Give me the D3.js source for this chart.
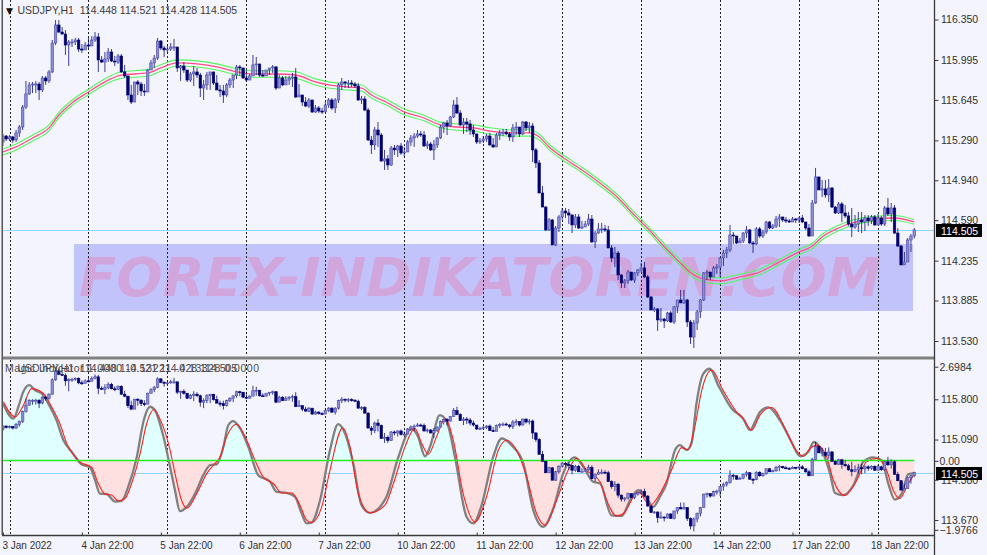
<!DOCTYPE html>
<html><head><meta charset="utf-8">
<script src="https://cdn.jsdelivr.net/npm/d3@7/dist/d3.min.js"></script>
<style>
html,body{margin:0;padding:0;background:#f4f4ff;overflow:hidden}
svg{display:block}
text{font-family:"Liberation Sans",Arial,sans-serif}
</style></head><body><div id="chart"></div>
<script>
const firstOpen = 115.276;
const closes = [115.328,115.302,115.320,115.293,115.355,115.407,115.582,115.697,115.776,115.784,115.784,115.732,115.837,115.811,115.890,116.144,116.302,116.240,116.223,116.126,116.153,116.153,116.170,116.091,116.083,116.126,116.118,116.170,116.197,115.995,115.977,116.004,116.065,115.986,115.977,116.030,115.890,115.855,115.688,115.626,115.802,115.784,115.723,115.714,115.907,115.969,116.012,116.161,116.100,116.083,116.091,116.109,116.109,115.925,115.942,115.907,115.819,115.872,115.890,115.863,115.749,115.776,115.863,115.890,115.793,115.732,115.723,115.688,115.776,115.819,115.863,115.934,115.925,115.837,115.819,115.855,115.951,115.960,115.863,115.855,115.907,115.925,115.934,115.749,115.837,115.776,115.819,115.837,115.846,115.670,115.688,115.626,115.591,115.644,115.539,115.574,115.547,115.539,115.600,115.644,115.574,115.644,115.776,115.802,115.793,115.793,115.784,115.767,115.644,115.653,115.556,115.293,115.250,115.381,115.337,115.109,115.127,115.074,115.223,115.206,115.241,115.179,115.188,115.276,115.311,115.328,115.346,115.337,115.241,115.258,115.206,115.250,115.311,115.407,115.442,115.416,115.495,115.600,115.530,115.425,115.451,115.434,115.381,115.346,115.276,115.285,115.302,115.328,115.250,115.232,115.337,115.355,115.363,115.346,115.320,115.399,115.407,115.346,115.451,115.399,115.416,115.206,115.092,114.828,114.705,114.504,114.592,114.372,114.521,114.618,114.670,114.653,114.635,114.548,114.618,114.521,114.530,114.556,114.600,114.399,114.477,114.513,114.513,114.504,114.346,114.258,114.302,114.109,114.039,114.057,114.135,114.065,114.127,114.153,114.171,114.092,113.916,113.802,113.811,113.715,113.723,113.706,113.776,113.697,113.829,113.890,113.864,113.890,113.697,113.565,113.688,113.785,113.890,114.127,114.135,114.092,114.171,114.179,114.258,114.302,114.329,114.460,114.451,114.390,114.407,114.477,114.504,114.390,114.381,114.513,114.451,114.486,114.574,114.521,114.539,114.600,114.618,114.592,114.583,114.574,114.600,114.592,114.609,114.574,114.521,114.451,114.741,114.969,114.855,114.864,114.811,114.872,114.705,114.653,114.732,114.653,114.627,114.556,114.530,114.556,114.592,114.574,114.609,114.583,114.618,114.548,114.609,114.556,114.697,114.644,114.697,114.477,114.363,114.197,114.223,114.416,114.451,114.505];
const highs = [115.346,115.337,115.337,115.328,115.381,115.425,115.600,115.811,115.802,115.802,115.811,115.802,115.855,115.855,115.907,116.170,116.346,116.346,116.284,116.258,116.170,116.179,116.188,116.188,116.135,116.153,116.188,116.205,116.240,116.232,116.030,116.065,116.100,116.091,116.030,116.047,116.047,115.951,115.846,115.776,115.802,115.819,115.802,115.784,115.916,115.995,116.039,116.188,116.170,116.118,116.118,116.144,116.179,116.100,115.951,115.977,115.907,115.890,115.942,115.925,115.881,115.819,115.890,115.890,115.890,115.863,115.776,115.776,115.793,115.837,115.863,115.951,115.951,115.925,115.907,115.872,116.039,116.021,115.951,115.907,115.907,115.925,115.951,115.942,115.863,115.855,115.855,115.855,115.881,115.925,115.784,115.688,115.670,115.661,115.626,115.600,115.591,115.574,115.626,115.661,115.661,115.661,115.793,115.837,115.811,115.819,115.819,115.802,115.793,115.679,115.679,115.574,115.328,115.407,115.451,115.355,115.206,115.162,115.241,115.250,115.250,115.267,115.232,115.293,115.337,115.355,115.381,115.372,115.372,115.285,115.276,115.293,115.320,115.425,115.451,115.469,115.504,115.644,115.670,115.556,115.486,115.486,115.469,115.425,115.346,115.311,115.328,115.346,115.355,115.311,115.355,115.381,115.390,115.390,115.363,115.434,115.451,115.381,115.460,115.460,115.451,115.442,115.223,115.118,114.890,114.714,114.609,114.600,114.539,114.635,114.697,114.697,114.688,114.644,114.644,114.644,114.583,114.583,114.644,114.635,114.495,114.565,114.565,114.548,114.539,114.372,114.355,114.320,114.118,114.074,114.153,114.135,114.135,114.162,114.215,114.223,114.109,113.925,113.828,113.820,113.820,113.732,113.785,113.793,113.837,113.890,113.978,113.978,113.899,113.715,113.715,113.802,113.899,114.135,114.153,114.135,114.188,114.206,114.267,114.329,114.355,114.548,114.486,114.442,114.434,114.486,114.539,114.513,114.407,114.530,114.530,114.504,114.583,114.583,114.556,114.627,114.644,114.618,114.618,114.600,114.618,114.609,114.618,114.635,114.574,114.556,114.767,115.048,114.969,114.942,114.942,114.951,114.881,114.714,114.750,114.750,114.723,114.662,114.697,114.635,114.662,114.662,114.635,114.635,114.635,114.635,114.644,114.627,114.714,114.785,114.741,114.723,114.521,114.372,114.311,114.434,114.469,114.521];
const lows = [115.241,115.285,115.285,115.267,115.276,115.320,115.381,115.565,115.688,115.705,115.705,115.644,115.714,115.776,115.793,115.881,116.126,116.232,116.214,116.039,115.942,116.109,116.126,116.065,116.056,116.083,116.100,116.135,116.153,115.890,115.969,115.890,115.977,115.977,115.942,115.960,115.881,115.837,115.644,115.609,115.644,115.688,115.679,115.679,115.732,115.907,115.925,115.995,116.083,116.021,116.056,116.074,116.074,115.890,115.811,115.881,115.802,115.802,115.767,115.837,115.670,115.644,115.732,115.732,115.776,115.732,115.670,115.618,115.670,115.749,115.749,115.828,115.855,115.828,115.802,115.819,115.863,115.863,115.846,115.846,115.855,115.863,115.881,115.732,115.767,115.767,115.784,115.776,115.758,115.661,115.670,115.591,115.582,115.574,115.530,115.530,115.530,115.521,115.539,115.574,115.556,115.530,115.618,115.732,115.749,115.749,115.758,115.749,115.635,115.609,115.547,115.285,115.170,115.206,115.232,115.100,115.030,115.030,115.065,115.162,115.144,115.162,115.144,115.188,115.241,115.232,115.311,115.320,115.232,115.214,115.197,115.118,115.223,115.302,115.355,115.337,115.407,115.486,115.521,115.416,115.346,115.363,115.337,115.320,115.258,115.258,115.267,115.276,115.241,115.223,115.241,115.293,115.328,115.337,115.285,115.276,115.337,115.320,115.337,115.372,115.355,115.100,115.048,114.828,114.705,114.495,114.495,114.372,114.363,114.486,114.592,114.609,114.556,114.477,114.521,114.513,114.513,114.530,114.539,114.390,114.346,114.469,114.477,114.486,114.346,114.223,114.179,114.065,113.995,113.995,114.030,114.057,114.039,114.100,114.135,114.083,113.907,113.802,113.785,113.618,113.697,113.644,113.697,113.688,113.679,113.776,113.864,113.855,113.653,113.504,113.469,113.627,113.732,113.881,114.065,114.065,114.100,114.118,114.092,114.188,114.258,114.311,114.381,114.381,114.390,114.390,114.434,114.381,114.302,114.372,114.434,114.434,114.469,114.513,114.513,114.521,114.530,114.574,114.565,114.565,114.574,114.565,114.565,114.565,114.504,114.442,114.451,114.732,114.855,114.793,114.785,114.750,114.697,114.644,114.644,114.574,114.609,114.539,114.442,114.513,114.486,114.477,114.495,114.539,114.556,114.539,114.548,114.539,114.539,114.627,114.574,114.469,114.355,114.197,114.215,114.223,114.311,114.428];

const maBars = [0,4,9,14,17,21,26,32,36,44,48,53,59,65,70,76,83,89,95,99,105,109,112,117,122,128,133,138,143,148,154,160,163,166,170,176,183,187,191,194,197,200,205,210,213,218,224,230,236,242,246,249,254,258,264,271,277];
const maCenter = [115.188,115.232,115.311,115.399,115.512,115.618,115.714,115.819,115.863,115.881,115.925,115.969,115.960,115.934,115.898,115.872,115.872,115.863,115.802,115.776,115.758,115.749,115.688,115.618,115.539,115.486,115.425,115.407,115.399,115.372,115.355,115.355,115.320,115.232,115.144,115.030,114.881,114.785,114.662,114.574,114.486,114.390,114.241,114.109,114.074,114.057,114.092,114.135,114.223,114.311,114.364,114.442,114.521,114.565,114.600,114.609,114.574];
const maHalf = [.026,.026,.026,.026,.024,.024,.024,.026,.029,.029,.029,.027,.027,.027,.027,.029,.029,.029,.027,.027,.027,.027,.027,.025,.025,.025,.025,.028,.028,.028,.028,.028,.026,.024,.024,.024,.024,.024,.024,.024,.024,.024,.024,.024,.026,.026,.024,.024,.024,.024,.024,.024,.024,.024,.022,.022,.020];

const grayBars = [0.1,1.6,3.2,4.7,6.2,8,9.8,11.8,13.8,16.3,18.4,20.9,23.9,26.5,28,29.5,31.5,34.1,36.1,38.1,40.7,42.7,44.7,46.2,48.8,50.8,52.3,53.8,55.9,58.9,60.9,63,65,67,68.5,70,72.1,74.6,77.6,81.2,83.2,86.2,88.8,90.8,92.3,93.8,96.4,99.4,101.9,104,106.5,109,111.6,114.6,116.6,120.2,124.2,126.2,128.3,129.8,132.8,134.9,137.4,140.9,143,145.5,149,151.6,154.6,158.2,161.2,164.2,167.3,170.3,173.9,176.4,179.4,181.5,185,188.1,190.6,193.1,195.7,197.7,199.7,201.7,204.3,205.8,207.8,209.3,210.8,212.9,214.9,217.4,221.5,225,227.1,228.6,230.1,232.6,236.2,239.7,242.3,244.8,246.5,249.3,251.4,252.9,255.4,258.5,261.5,264.5,267.1,269.1,271.1,273.2,275.2,277];
const grayVals = [1.64,1.35,1.21,1.55,1.98,2.17,2.02,1.93,1.64,1.16,.59,.26,-.10,-.19,-.55,-.94,-.95,-1.17,-1.15,-.74,.11,1.12,1.55,1.45,.69,-.17,-.84,-1.44,-1.32,-.84,-.41,-.12,-.10,.40,1.02,1.14,.93,.40,-.41,-.60,-.89,-.92,-1.03,-1.51,-1.79,-1.77,-1.13,.30,1.05,.78,-.08,-1.27,-1.49,-1.32,-1.03,.11,.93,.69,.13,.40,1.31,1.12,.11,-1.60,-1.79,-1.27,.11,.64,.45,-.08,-1.41,-1.89,-1.36,-.36,.10,-.17,-.60,-.65,-1.56,-1.58,-1.13,-.84,-1.08,-1.32,-1.03,-.65,.31,.45,.31,.50,1.64,2.50,2.64,2.17,1.50,1.21,.88,1.12,1.40,1.53,1.16,.54,.13,.26,.54,.21,-.36,-.92,-.98,-.70,-.03,.10,.02,-.65,-1.11,-.94,-.38,-.36];
const redBars = [0.1,3.7,6.2,8.7,12.3,14.8,17.3,19.4,23.4,27,29,31,33,35.1,37.1,39.1,41.7,43.7,45.9,47.7,50.8,52.3,54.3,55.9,58.9,62,64,66,68,71,74.1,76.6,79.1,82.2,84.7,87.8,90.3,92.3,93.8,96.9,99.4,103.3,105.5,108,111.6,116.1,118.7,122.2,125.2,127.3,129.3,131.8,134.4,136.9,139.9,143.5,147,150.6,153.1,156.6,159.2,162.2,164.8,168.3,171.8,174.4,177.4,181.5,183.5,186.5,188.6,193.1,196.7,199.7,203.2,206.3,208.3,210.3,212.4,215.4,218.9,223,225,227.6,230.1,233.6,237.7,240.7,243.3,245.3,247.3,250.4,252.4,255.9,259,262.5,265.6,268.6,270.6,272.6,275.2,277];
const redVals = [1.69,1.26,1.59,2.07,1.93,1.55,1.07,.50,-.03,-.19,-.65,-.95,-.98,-1.15,-1.08,-.65,.21,1.07,1.47,1.21,.31,-.36,-1.13,-1.36,-.94,-.36,-.12,.11,.69,1.05,.59,.02,-.46,-.65,-.92,-.92,-1.27,-1.70,-1.77,-1.32,-.27,.95,.40,-.94,-1.49,-1.27,-.65,.40,.93,.50,.19,.69,1.21,.59,-.94,-1.75,-1.03,.31,.59,.21,-.46,-1.51,-1.84,-1.13,-.27,.07,-.27,-.60,-1.13,-1.58,-1.51,-.89,-1.27,-.94,-.27,.38,.32,.97,2.02,2.60,2.02,1.40,1.21,.88,1.31,1.53,.93,.35,.13,.35,.45,.11,-.55,-.99,-.65,-.03,.07,-.27,-.84,-1.08,-.65,-.38];

const dateLabels = ["3 Jan 2022","4 Jan 22:00","5 Jan 22:00","6 Jan 22:00","7 Jan 22:00","10 Jan 22:00","11 Jan 22:00","12 Jan 22:00","13 Jan 22:00","14 Jan 22:00","17 Jan 22:00","18 Jan 22:00"];
const priceTicks = [116.350,115.995,115.645,115.290,114.940,114.590,114.235,113.885,113.530];
const lowerPriceTicks = [115.800,115.090,114.380,113.670];
const indicatorTicks = [2.6984,0,-1.9766];
const lastPrice = 114.505;
const headerMain = "USDJPY,H1  114.448 114.521 114.428 114.505";
const headerLower = "Magic Indicator 1.0000 -0.13221 -0.13328 0.0000";
const watermark = "FOREX-INDIKATOREN.COM";

const W = 987, H = 555, AX = 934.5;
const bg = "#f4f4ff", navy = "#00006e", axisC = "#3a3a3a";
const opens = [firstOpen].concat(closes.slice(0,-1));
const idx = d3.range(closes.length);

const xBar = d3.scaleLinear().domain([0, closes.length-1]).range([2.92, 914.25]);
const yTop = d3.scaleLinear().domain([113.53,116.35]).range([341,19.5]);
const yLow = d3.scaleLinear().domain([113.67,115.8]).range([520,399.3]);
const yInd = d3.scaleLinear().domain([-1.9766,2.6984]).range([529.8,366.7]);
const snap = v => Math.round(v)+.5;

const svg = d3.select("#chart").append("svg").attr("width",W).attr("height",H);
svg.append("rect").attr("width",W).attr("height",H).attr("fill",bg);
const defs = svg.append("defs");
defs.append("filter").attr("id","soft").attr("color-interpolation-filters","sRGB").attr("x","-5%").attr("y","-5%").attr("width","110%").attr("height","110%")
  .append("feGaussianBlur").attr("stdDeviation",.3);
defs.append("clipPath").attr("id","cTop").append("rect").attr("x",3).attr("y",0).attr("width",AX-3).attr("height",355);
defs.append("clipPath").attr("id","cLow").append("rect").attr("x",3).attr("y",360).attr("width",AX-3).attr("height",174);
defs.append("clipPath").attr("id","cAbove").append("rect").attr("x",3).attr("y",360).attr("width",AX-3).attr("height",yInd(0)-360);
defs.append("clipPath").attr("id","cBelow").append("rect").attr("x",3).attr("y",yInd(0)).attr("width",AX-3).attr("height",534-yInd(0));

const gTop = svg.append("g").attr("clip-path","url(#cTop)");
const gLow = svg.append("g").attr("clip-path","url(#cLow)");

// watermark objects sit behind the chart
gTop.append("rect").attr("x",74).attr("y",244).attr("width",839).attr("height",67).attr("fill","#c3c3fb");
gTop.append("text").text(watermark).attr("x",79).attr("y",296)
  .attr("textLength",802).attr("lengthAdjust","spacingAndGlyphs")
  .style("font-family","'DejaVu Sans'").style("font-style","oblique").style("font-weight","bold")
  .style("font-size","53px").attr("fill","#d1a6dc");

// day separators
const gridBars = d3.range(2, closes.length, 24);
function grid(g,y1,y2){
  g.selectAll("line.g").data(gridBars).join("line").attr("class","g")
   .attr("x1",d=>Math.round(xBar(d))+.5).attr("x2",d=>Math.round(xBar(d))+.5)
   .attr("y1",y1).attr("y2",y2).attr("stroke","#222").attr("stroke-dasharray","2,2").attr("stroke-width",1);
}
grid(gTop,0,355); grid(gLow,360,534);

// last price line
gTop.append("line").attr("x1",3).attr("x2",AX).attr("y1",snap(yTop(lastPrice))).attr("y2",snap(yTop(lastPrice))).attr("stroke","#8ed6ff");
gLow.append("line").attr("x1",3).attr("x2",AX).attr("y1",snap(yLow(lastPrice))).attr("y2",snap(yLow(lastPrice))).attr("stroke","#8ed6ff");

// moving average bands
const maLine = d3.line().x(d=>xBar(d[0])).y(d=>yTop(d[1])).curve(d3.curveMonotoneX);
const bandUp = maBars.map((b,i)=>[b,maCenter[i]+maHalf[i]]);
const bandDn = maBars.map((b,i)=>[b,maCenter[i]-maHalf[i]]);
const bandMid = maBars.map((b,i)=>[b,maCenter[i]]);
[[bandUp,"#55f55a",1.1],[bandDn,"#55f55a",1.1],[bandMid,"#ff4f86",1.3]].forEach(s=>{
  gTop.append("path").attr("d",maLine(s[0])).attr("fill","none").attr("stroke",s[1]).attr("stroke-width",s[2]);
});

// indicator
const grayPts = grayBars.map((b,i)=>[b,grayVals[i]]);
const redPts = redBars.map((b,i)=>[b,redVals[i]]);
const area = d3.area().x(d=>xBar(d[0])).y0(yInd(0)).y1(d=>yInd(d[1])).curve(d3.curveMonotoneX);
const indLine = d3.line().x(d=>xBar(d[0])).y(d=>yInd(d[1])).curve(d3.curveMonotoneX);
const lowAbove = gLow.append("g").attr("clip-path","url(#cAbove)");
const lowBelow = gLow.append("g").attr("clip-path","url(#cBelow)");
lowAbove.append("path").attr("d",area(grayPts)).attr("fill","#e0ffff");
lowBelow.append("path").attr("d",area(grayPts)).attr("fill","#ffe0e0");
gLow.append("path").attr("d",indLine(grayPts)).attr("fill","none").attr("stroke","#808080").attr("stroke-width",2.3);
gLow.append("path").attr("d",indLine(redPts)).attr("fill","none").attr("stroke","#ff2020").attr("stroke-width",1.1);
const zeroY = Math.floor(yInd(0))+.5;
gLow.append("line").attr("x1",3).attr("x2",xBar(closes.length-1)).attr("y1",zeroY).attr("y2",zeroY).attr("stroke","#22ee22").attr("stroke-width",1.4);

// candles in both panels
function candles(g,y){
  const c = g.append("g").attr("filter","url(#soft)").selectAll("g.c").data(idx).join("g").attr("class","c");
  c.append("line").attr("x1",i=>xBar(i)).attr("x2",i=>xBar(i)).attr("y1",i=>y(highs[i])).attr("y2",i=>y(lows[i]))
    .attr("stroke",navy).attr("stroke-width",1).attr("stroke-opacity",.75);
  c.append("rect").attr("x",i=>xBar(i)-1.25).attr("width",2.5)
    .attr("y",i=>y(Math.max(opens[i],closes[i])))
    .attr("height",i=>Math.max(1,Math.abs(y(opens[i])-y(closes[i]))))
    .attr("fill",i=>closes[i]>=opens[i]?"#8c8cd2":navy)
    .attr("stroke",i=>closes[i]>=opens[i]?"#4a4aa8":navy).attr("stroke-width",.6);
}
candles(gTop,yTop); candles(gLow,yLow);

// frame
svg.append("line").attr("x1",2.25).attr("x2",2.25).attr("y1",0).attr("y2",535).attr("stroke","#555").attr("stroke-width",1.5);
svg.append("rect").attr("x",3).attr("y",356.5).attr("width",AX-3).attr("height",3).attr("fill","#808080");

// axes
function styleAxis(g){
  g.selectAll("text").attr("fill","#303030").style("font-size","10.5px").style("font-family","'Liberation Sans'");
  g.selectAll("line").attr("stroke",axisC);
  g.select(".domain").remove();
}
svg.append("line").attr("x1",AX).attr("x2",AX).attr("y1",0).attr("y2",555).attr("stroke",axisC).attr("stroke-width",1.3);
svg.append("line").attr("x1",2).attr("x2",AX).attr("y1",535.5).attr("y2",535.5).attr("stroke",axisC).attr("stroke-width",1.3);

svg.append("g").attr("transform",`translate(${AX},0)`)
  .call(d3.axisRight(yTop).tickValues(priceTicks).tickFormat(d3.format(".3f")).tickSize(4).tickPadding(2.5)).call(styleAxis);
svg.append("g").attr("transform",`translate(${AX},0)`)
  .call(d3.axisRight(yLow).tickValues(lowerPriceTicks).tickFormat(d3.format(".3f")).tickSize(4).tickPadding(2.5)).call(styleAxis);
svg.append("g").attr("transform",`translate(${AX},0)`)
  .call(d3.axisRight(yInd).tickValues(indicatorTicks).tickFormat(d=>d===0?"0.00":d3.format(".4f")(d)).tickSize(4).tickPadding(1)).call(styleAxis);

const dateBars = dateLabels.map((_,i)=>i*24);
const xAxis = svg.append("g").attr("transform","translate(0,535.5)")
  .call(d3.axisBottom(xBar).tickValues(dateBars).tickFormat((_,i)=>dateLabels[i]).tickSize(-3).tickPadding(5)).call(styleAxis);
xAxis.selectAll("text").attr("text-anchor","start").attr("dx",-1).attr("y",6).style("font-size","10px");

// last price boxes
[snap(yTop(lastPrice)),snap(yLow(lastPrice))].forEach(yy=>{
  svg.append("rect").attr("x",936).attr("y",yy-6.5).attr("width",46).attr("height",13).attr("fill","#000");
  svg.append("text").text(lastPrice.toFixed(3)).attr("x",941).attr("y",yy+4).attr("fill","#fff").style("font-size","10.5px");
});

// headers
function header(t,xx,yy,col){return svg.append("text").text(t).attr("x",xx).attr("y",yy).attr("fill",col).style("font-size","10.5px").style("white-space","pre");}
svg.append("text").text("▼").attr("x",6).attr("y",14).attr("fill","#111").style("font-size","9px").style("font-family","'DejaVu Sans'");
header(headerMain,17.5,14,"#3a3a3a");
header(headerLower,5,371.5,"#4a4a4a").attr("textLength",254).attr("lengthAdjust","spacing");
header(headerMain,17.5,371.5,"#4a4a4a");
</script></body></html>
